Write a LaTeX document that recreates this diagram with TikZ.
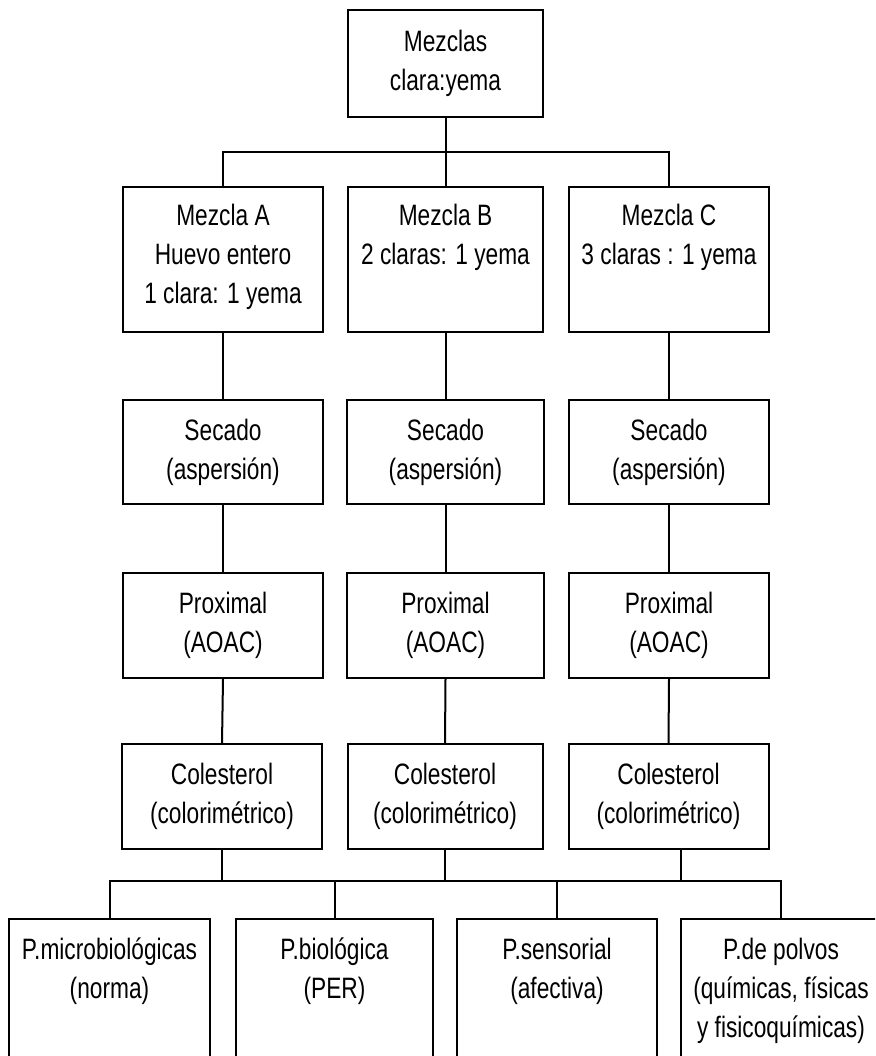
\documentclass[tikz,border=0pt]{standalone}
\usepackage{fontspec}
\setmainfont{Liberation Sans}[FakeStretch=0.77]
\usetikzlibrary{calc,positioning}
\tikzset{
  caja/.style={draw, line width=2pt, align=center, inner sep=0pt, font=\fontsize{29.5}{39}\selectfont},
  fila/.style={minimum width=200pt, minimum height=145pt},
  paso/.style={minimum width=200pt, minimum height=105pt},
  prueba/.style={minimum width=200pt, minimum height=188pt, anchor=north},
  linea/.style={line width=2pt}
}

\begin{document}
\begin{tikzpicture}[x=1pt,y=-1pt]
% page frame
\useasboundingbox (0,0) rectangle (875,1056);
\clip (0,0) rectangle (875,1056);
% top box
\node[caja, minimum width=195pt, minimum height=107pt] (mezclas) at (445.5,63.5) {Mezclas\\clara:yema};
% mixtures A, B, C
\node[caja, fila] (mA) at (223,259.5) {Mezcla A\\Huevo entero\\1 clara: 1 yema\strut};
\node[caja, fila, minimum width=195pt] (mB) at (445.5,259.5) {Mezcla B\\2 claras: 1 yema\\\strut};
\node[caja, fila] (mC) at (669,259.5) {Mezcla C\\3 claras : 1 yema\\\strut};
% drying
\node[caja, paso, minimum height=104pt] (secA) at (223,452) {Secado\\(aspersión)};
\node[caja, paso, minimum height=104pt, minimum width=197pt] (secB) at (445.5,452) {Secado\\(aspersión)};
\node[caja, paso, minimum height=104pt] (secC) at (669,452) {Secado\\(aspersión)};
% proximal analysis
\node[caja, paso] (proxA) at (223,625.5) {Proximal\\(AOAC)};
\node[caja, paso, minimum width=197pt] (proxB) at (445.5,625.5) {Proximal\\(AOAC)};
\node[caja, paso] (proxC) at (669,625.5) {Proximal\\(AOAC)};
% cholesterol
\node[caja, paso] (colA) at (222,796.5) {Colesterol\\(colorimétrico)};
\node[caja, paso, minimum width=195pt] (colB) at (445,796.5) {Colesterol\\(colorimétrico)};
\node[caja, paso] (colC) at (668.5,796.5) {Colesterol\\(colorimétrico)};
% tests
\node[caja, prueba, minimum width=201pt] (pm) at (109.5,918) {P.microbiológicas\\(norma)\\~\\\strut};
\node[caja, prueba, minimum width=197pt] (pb) at (334.5,918) {P.biológica\\(PER)\\~\\\strut};
\node[caja, prueba] (ps) at (557,918) {P.sensorial\\(afectiva)\\~\\\strut};
\node[caja, prueba] (pp) at (781,918) {P.de polvos\\(químicas, físicas\\y fisicoquímicas)\\\strut};
% junctions
\coordinate (j1) at (445.5,152);
\coordinate (j2) at (445,881);
% top connectors
\draw[linea] (mezclas.south) -- (j1);
\draw[linea] (mA.north) |- (j1) -| (mC.north);
\draw[linea] (j1) -- (mB.north);
% column connectors
\foreach \c in {A,B,C}{
  \draw[linea] (m\c.south) -- (sec\c.north);
  \draw[linea] (sec\c.south) -- (prox\c.north);
  \draw[linea] (prox\c.south) -- (col\c.north);
}
% bottom connectors
\draw[linea] (colA.south) -- (colA.south |- j2);
\draw[linea] (colB.south) -- (j2);
\draw[linea] ([xshift=12pt]colC.south) -- ([xshift=12pt]colC.south |- j2);
\draw[linea] (pm.north) |- (j2) -| (pp.north);
\draw[linea] (pb.north) -- (pb.north |- j2);
\draw[linea] (ps.north) -- (ps.north |- j2);
\end{tikzpicture}
\end{document}
